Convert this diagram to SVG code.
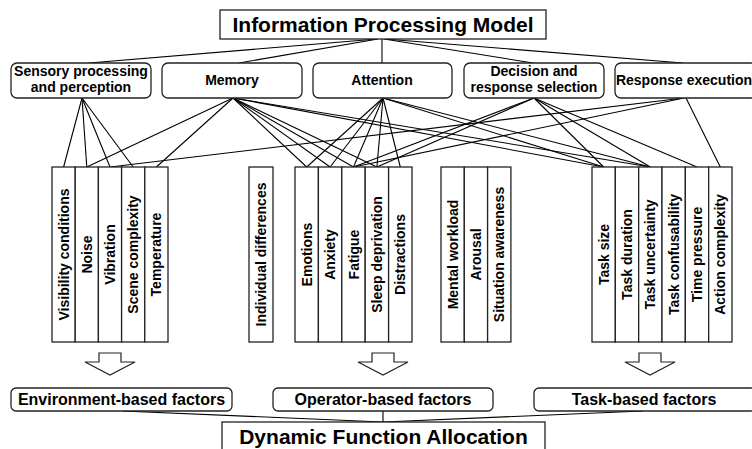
<svg xmlns="http://www.w3.org/2000/svg" width="752" height="449" viewBox="0 0 752 449">
<style>
.box{fill:#fff;stroke:#222;stroke-width:1.3}
.t{font-family:"Liberation Sans",Arial,sans-serif;font-weight:bold;fill:#000;text-anchor:middle}
.l1{font-size:14px}
.big{font-size:21px}
.fac{font-size:16px}
.col{font-size:14px}
.c line{stroke:#000;stroke-width:1.1}
.arr{fill:#fff;stroke:#222;stroke-width:1.2}
</style>
<rect width="752" height="449" fill="#fff"/>
<g class="c" id="connectors">
<line x1="377" y1="39" x2="89" y2="63"/>
<line x1="378" y1="39" x2="239" y2="63"/>
<line x1="382" y1="39" x2="382" y2="63"/>
<line x1="384" y1="39" x2="533" y2="63"/>
<line x1="385" y1="39" x2="683" y2="63"/>
<line x1="82" y1="98" x2="63.6" y2="167"/>
<line x1="82" y1="98" x2="86.8" y2="167"/>
<line x1="82" y1="98" x2="110" y2="167"/>
<line x1="82" y1="98" x2="133.2" y2="167"/>
<line x1="233" y1="98" x2="86.8" y2="167"/>
<line x1="233" y1="98" x2="156.4" y2="167"/>
<line x1="233" y1="98" x2="306.7" y2="167"/>
<line x1="233" y1="98" x2="330.1" y2="167"/>
<line x1="233" y1="98" x2="353.5" y2="167"/>
<line x1="233" y1="98" x2="376.9" y2="167"/>
<line x1="233" y1="98" x2="603.7" y2="167"/>
<line x1="233" y1="98" x2="650.3" y2="167"/>
<line x1="383" y1="98" x2="306.7" y2="167"/>
<line x1="383" y1="98" x2="330.1" y2="167"/>
<line x1="383" y1="98" x2="353.5" y2="167"/>
<line x1="383" y1="98" x2="376.9" y2="167"/>
<line x1="383" y1="98" x2="400.3" y2="167"/>
<line x1="383" y1="98" x2="603.7" y2="167"/>
<line x1="383" y1="98" x2="650.3" y2="167"/>
<line x1="534" y1="98" x2="353.5" y2="167"/>
<line x1="534" y1="98" x2="376.9" y2="167"/>
<line x1="534" y1="98" x2="603.7" y2="167"/>
<line x1="534" y1="98" x2="650.3" y2="167"/>
<line x1="534" y1="98" x2="697" y2="167"/>
<line x1="684" y1="98" x2="110" y2="167"/>
<line x1="684" y1="98" x2="353.5" y2="167"/>
<line x1="686" y1="98" x2="720.3" y2="167"/>
<line x1="122" y1="411" x2="383" y2="422"/>
<line x1="383" y1="411" x2="383" y2="422"/>
<line x1="643" y1="411" x2="383" y2="422"/>
</g>
<g id="n-ipm"><rect class="box" x="220" y="10" width="326" height="29"/><text class="t big" x="383" y="32">Information Processing Model</text></g>
<g id="n-sensory"><rect class="box" x="11" y="63" width="140" height="35" rx="6"/><text class="t l1" x="81" y="76">Sensory processing</text><text class="t l1" x="81" y="92">and perception</text></g>
<g id="n-memory"><rect class="box" x="162" y="63" width="140" height="35" rx="6"/><text class="t l1" x="232" y="85">Memory</text></g>
<g id="n-attention"><rect class="box" x="313" y="63" width="139" height="35" rx="6"/><text class="t l1" x="382" y="85">Attention</text></g>
<g id="n-decision"><rect class="box" x="464" y="63" width="140" height="35" rx="6"/><text class="t l1" x="534" y="76">Decision and</text><text class="t l1" x="534" y="92">response selection</text></g>
<g id="n-response"><rect class="box" x="615" y="63" width="142" height="35" rx="6"/><text class="t l1" x="684" y="85">Response execution</text></g>
<g id="n-env-cols">
<rect class="box" x="52" y="167" width="23.2" height="175"/><rect class="box" x="75.2" y="167" width="23.2" height="175"/><rect class="box" x="98.4" y="167" width="23.2" height="175"/><rect class="box" x="121.6" y="167" width="23.2" height="175"/><rect class="box" x="144.8" y="167" width="23.2" height="175"/>
<text class="t col" transform="translate(63.6,254.5) rotate(-90)" dy="0.36em">Visibility conditions</text>
<text class="t col" transform="translate(86.8,254.5) rotate(-90)" dy="0.36em">Noise</text>
<text class="t col" transform="translate(110,254.5) rotate(-90)" dy="0.36em">Vibration</text>
<text class="t col" transform="translate(133.2,254.5) rotate(-90)" dy="0.36em">Scene complexity</text>
<text class="t col" transform="translate(156.4,254.5) rotate(-90)" dy="0.36em">Temperature</text>
</g>
<g id="n-indiv"><rect class="box" x="249" y="167" width="24" height="175"/><text class="t col" transform="translate(261,254.5) rotate(-90)" dy="0.36em">Individual differences</text></g>
<g id="n-op-cols">
<rect class="box" x="295" y="167" width="23.4" height="175"/><rect class="box" x="318.4" y="167" width="23.4" height="175"/><rect class="box" x="341.8" y="167" width="23.4" height="175"/><rect class="box" x="365.2" y="167" width="23.4" height="175"/><rect class="box" x="388.6" y="167" width="23.4" height="175"/>
<text class="t col" transform="translate(306.7,254.5) rotate(-90)" dy="0.36em">Emotions</text>
<text class="t col" transform="translate(330.1,254.5) rotate(-90)" dy="0.36em">Anxiety</text>
<text class="t col" transform="translate(353.5,254.5) rotate(-90)" dy="0.36em">Fatigue</text>
<text class="t col" transform="translate(376.9,254.5) rotate(-90)" dy="0.36em">Sleep deprivation</text>
<text class="t col" transform="translate(400.3,254.5) rotate(-90)" dy="0.36em">Distractions</text>
</g>
<g id="n-mw-cols">
<rect class="box" x="441" y="167" width="23.3" height="175"/><rect class="box" x="464.3" y="167" width="23.3" height="175"/><rect class="box" x="487.6" y="167" width="23.3" height="175"/>
<text class="t col" transform="translate(452.7,254.5) rotate(-90)" dy="0.36em">Mental workload</text>
<text class="t col" transform="translate(476,254.5) rotate(-90)" dy="0.36em">Arousal</text>
<text class="t col" transform="translate(499.3,254.5) rotate(-90)" dy="0.36em">Situation awareness</text>
</g>
<g id="n-task-cols">
<rect class="box" x="592" y="167" width="23.33" height="175"/><rect class="box" x="615.33" y="167" width="23.33" height="175"/><rect class="box" x="638.67" y="167" width="23.33" height="175"/><rect class="box" x="662" y="167" width="23.33" height="175"/><rect class="box" x="685.33" y="167" width="23.33" height="175"/><rect class="box" x="708.67" y="167" width="23.33" height="175"/>
<text class="t col" transform="translate(603.7,254.5) rotate(-90)" dy="0.36em">Task size</text>
<text class="t col" transform="translate(627,254.5) rotate(-90)" dy="0.36em">Task duration</text>
<text class="t col" transform="translate(650.3,254.5) rotate(-90)" dy="0.36em">Task uncertainty</text>
<text class="t col" transform="translate(673.7,254.5) rotate(-90)" dy="0.36em">Task confusability</text>
<text class="t col" transform="translate(697,254.5) rotate(-90)" dy="0.36em">Time pressure</text>
<text class="t col" transform="translate(720.3,254.5) rotate(-90)" dy="0.36em">Action complexity</text>
</g>
<g id="n-arrows">
<path class="arr" d="M99,353 H121 V362 H135 L110,375 L85,362 H99 Z"/>
<path class="arr" d="M372,353 H394 V362 H408 L383,375 L358,362 H372 Z"/>
<path class="arr" d="M639,353 H661 V362 H675 L650,375 L625,362 H639 Z"/>
</g>
<g id="n-env"><rect class="box" x="11" y="388" width="221" height="23" rx="5"/><text class="t fac" x="121.5" y="405">Environment-based factors</text></g>
<g id="n-op"><rect class="box" x="273" y="388" width="220" height="23" rx="5"/><text class="t fac" x="383" y="405">Operator-based factors</text></g>
<g id="n-task"><rect class="box" x="534" y="388" width="222" height="23" rx="5"/><text class="t fac" x="644" y="405">Task-based factors</text></g>
<g id="n-dfa"><rect class="box" x="222" y="422" width="323" height="32"/><text class="t big" x="383.5" y="444">Dynamic Function Allocation</text></g>
</svg>
